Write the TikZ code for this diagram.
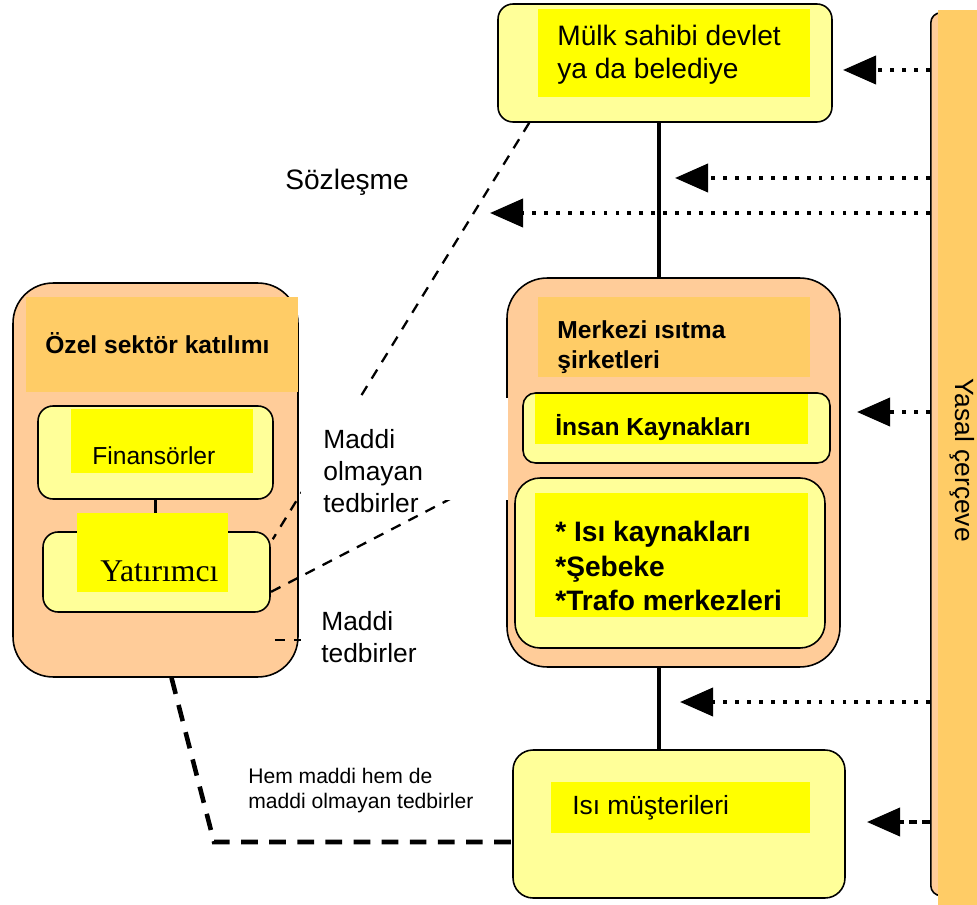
\documentclass[tikz,border=0pt]{standalone}
\usepackage{fontspec}
\setmainfont{Liberation Sans}
\newfontfamily\timesfont{Liberation Serif}
\usepackage{tikz}
\usetikzlibrary{arrows.meta,calc}
\definecolor{paleyellow}{HTML}{FFFF99}
\definecolor{hiyellow}{HTML}{FFFF00}
\definecolor{peach}{HTML}{FFCC99}
\definecolor{amber}{HTML}{FFCC66}

\begin{document}
\begin{tikzpicture}[x=0.02cm,y=-0.02cm,
           box/.style={draw,line width=0.9pt,fill=paleyellow,rounded corners=0.3cm,inner sep=0},
           group/.style={draw,line width=0.9pt,fill=peach,rounded corners=0.8cm,inner sep=0},
           hilite/.style={fill=hiyellow,inner sep=0},
           head/.style={fill=amber,inner sep=0},
           txt/.style={anchor=west,align=left,inner sep=0},
           link/.style={line width=2pt},
           law/.style={line width=2.2pt,dash pattern=on 2.2pt off 4.6pt,-{Triangle[length=0.66cm,width=0.56cm]}},
           lawdash/.style={law,dash pattern=on 4.5pt off 3pt},
           deal/.style={line width=1.3pt,dash pattern=on 6pt off 5pt},
           both/.style={line width=2.6pt,dash pattern=on 9.5pt off 6.5pt}]
           \useasboundingbox (0,0) rectangle (977,905);

           \node [draw,line width=0.9pt,fill=peach,rounded corners=0.2cm,minimum width=1.2cm,minimum height=17.66cm,anchor=north west] (yasal) at (930,12) {};
           \fill [amber] (938,10) rectangle (977,905);
           \node [rotate=-90,font=\fontsize{15}{18}\selectfont] (yasaltxt) at (962,460) {Yasal çerçeve};

           \node [box,minimum width=6.68cm,minimum height=2.36cm] (mulk) at (665,63) {};
           \node [hilite,minimum width=5.44cm,minimum height=1.76cm] (mulkhl) at (674,53) {};
           \node [txt,font=\fontsize{16}{18.7}\selectfont] (mulktxt) at (557,55) {Mülk sahibi devlet\\ya da belediye};

           \node [group,minimum width=6.66cm,minimum height=7.78cm] (merk) at (673.5,472.5) {};
           \node [head,minimum width=5.44cm,minimum height=1.6cm] (merkhd) at (674,337) {};
           \node [txt,font=\bfseries\fontsize{14}{17}\selectfont] (merktxt) at (557,347) {Merkezi ısıtma\\şirketleri};

           \node [box,rounded corners=0.25cm,minimum width=6.14cm,minimum height=1.4cm] (insan) at (676.5,428) {};
           \node [hilite,minimum width=5.46cm,minimum height=1cm] (insanhl) at (671.5,419) {};
           \node [txt,font=\bfseries\fontsize{14}{17}\selectfont] (insantxt) at (555,428) {İnsan Kaynakları};

           \node [box,rounded corners=0.5cm,minimum width=6.2cm,minimum height=3.4cm] (kaynak) at (670,563) {};
           \node [hilite,minimum width=5.46cm,minimum height=2.48cm] (kaynakhl) at (671.5,555) {};
           \node [txt,font=\bfseries\fontsize{16}{19.5}\selectfont] (kaynaktxt) at (555,566) {* Isı kaynakları\\*Şebeke\\*Trafo merkezleri};

           \node [box,rounded corners=0.4cm,minimum width=6.64cm,minimum height=2.96cm] (musteri) at (679,824) {};
           \node [hilite,minimum width=5.18cm,minimum height=1.02cm] (musterihl) at (680.5,807.5) {};
           \node [txt,font=\fontsize{15}{18}\selectfont] (musteritxt) at (572,808) {Isı müşterileri};

           \node [group,minimum width=5.7cm,minimum height=7.88cm] (ozel) at (155.5,480) {};
           \node [head,minimum width=5.44cm,minimum height=1.9cm] (ozelhd) at (162,344.5) {};
           \node [txt,font=\bfseries\fontsize{14}{17}\selectfont] (ozeltxt) at (45,343) {Özel sektör katılımı};

           \node [box,minimum width=4.7cm,minimum height=1.86cm] (fin) at (155.5,452.5) {};
           \node [hilite,minimum width=3.64cm,minimum height=1.28cm] (finhl) at (162,441) {};
           \node [txt,font=\fontsize{14}{17}\selectfont] (fintxt) at (92,456) {Finansörler};

           \node [box,minimum width=4.54cm,minimum height=1.6cm] (yat) at (156.5,572) {};
           \draw [link] (fin.south) -- (fin.south |- yat.north);
           \node [hilite,minimum width=3.02cm,minimum height=1.58cm] (yathl) at (152.5,552.5) {};
           \node [txt,font=\timesfont\fontsize{18}{21}\selectfont] (yattxt) at (100,571) {Yatırımcı};

           \coordinate (spine) at (659,0);
           \draw [link] (mulk.south -| spine) -- (merk.north -| spine);
           \draw [link] (merk.south -| spine) -- (musteri.north -| spine);

           \coordinate (olm) at (452,498);
           \coordinate (mt) at (0,640);
           \coordinate (bend) at (214,842);
           \draw [deal] ($(mulk.south west)+(32,0)$) -- ($(yat.north east)+(2,8)$);
           \draw [deal] (olm) -- ($(yat.east)+(0,20)$);
           \draw [deal] ($(ozel.east |- mt)+(-24,0)$) -- (merk.west |- mt);
           \draw [both] ($(ozel.south)+(16,0)$) -- (bend) -- (musteri.west |- bend);

           \fill [white] (301,398) rectangle (508,500);
           \fill [white] (301,600) rectangle (503,680);

           \node [txt,font=\fontsize{16}{19}\selectfont] (soz) at (285,182) {Sözleşme};
           \node [txt,font=\fontsize{15}{18}\selectfont] (olmtxt) at (323,471) {Maddi\\olmayan\\tedbirler};
           \node [txt,font=\fontsize{15}{18}\selectfont] (mttxt) at (321,637) {Maddi\\tedbirler};
           \node [txt,font=\fontsize{12}{14.2}\selectfont] (hemtxt) at (248,791) {Hem maddi hem de\\maddi olmayan tedbirler};

           \coordinate (tip1) at (843,70);
           \coordinate (tip2) at (675,178);
           \coordinate (tip3) at (490,213);
           \coordinate (tip4) at (857,412);
           \coordinate (tip5) at (680,702);
           \coordinate (tip6) at (867,822);
           \draw [law] (yasal.west |- tip1) -- (tip1);
           \draw [law] (yasal.west |- tip2) -- (tip2);
           \draw [law] (yasal.west |- tip3) -- (tip3);
           \draw [law] (yasal.west |- tip4) -- (tip4);
           \draw [law] (yasal.west |- tip5) -- (tip5);
           \draw [lawdash] (yasal.west |- tip6) -- (tip6);
      \end{tikzpicture}
\end{document}
